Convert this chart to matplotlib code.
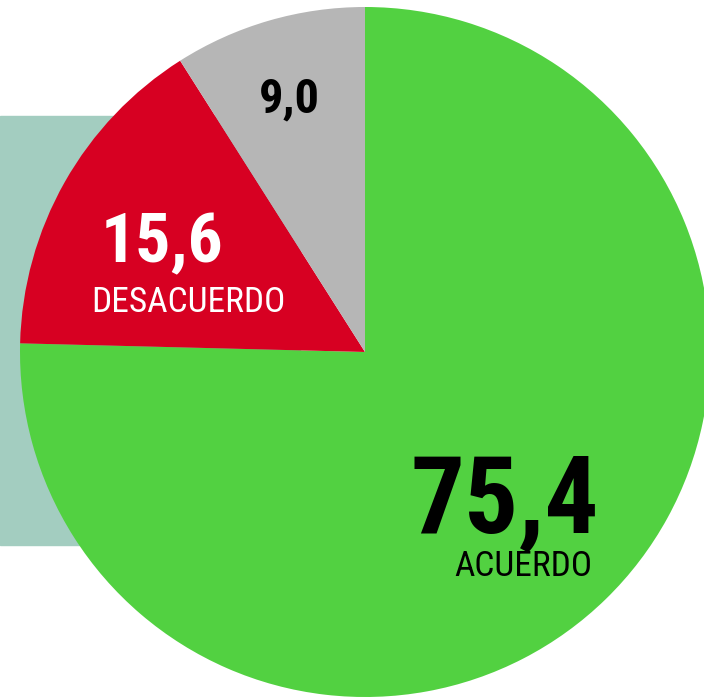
import matplotlib
matplotlib.use("Agg")
import matplotlib.pyplot as plt
from matplotlib.patches import Rectangle

# datos (porcentajes)
labels = ["ACUERDO", "DESACUERDO", ""]
values = [75.4, 15.6, 9.0]
value_text = ["75,4", "15,6", "9,0"]
colors = ["#52d141", "#d70022", "#b6b6b6"]

W, H = 704, 698
fig = plt.figure(figsize=(W / 100, H / 100), dpi=100)
ax = fig.add_axes([0, 0, 1, 1])

# caja de fondo
ax.add_patch(Rectangle((0, H - 545), 300, 429, color="#a3cdc0", zorder=0))

ax.pie(values, colors=colors, startangle=90, counterclock=False,
       center=(365, H - 352), radius=345, frame=True,
       wedgeprops=dict(linewidth=0, zorder=1))
ax.set_xlim(0, W)
ax.set_ylim(0, H)
ax.set_aspect("equal")
ax.axis("off")

fam = ["Roboto Condensed", "DejaVu Sans"]

ax.text(289, H - 112, value_text[2], fontsize=35, fontweight="bold", color="black",
        ha="center", va="baseline", family=fam, zorder=3)
ax.text(162, H - 262, value_text[1], fontsize=50, fontweight="bold", color="white",
        ha="center", va="baseline", family=fam, zorder=3)
ax.text(188, H - 312, labels[1], fontsize=25.5, color="white",
        ha="center", va="baseline", family=fam, zorder=3)
ax.text(505, H - 533, value_text[0], fontsize=77, fontweight="bold", color="black",
        ha="center", va="baseline", family=fam, zorder=3)
ax.text(523, H - 576, labels[0], fontsize=25.5, color="black",
        ha="center", va="baseline", family=fam, zorder=3)

fig.savefig("out.png", dpi=100)
